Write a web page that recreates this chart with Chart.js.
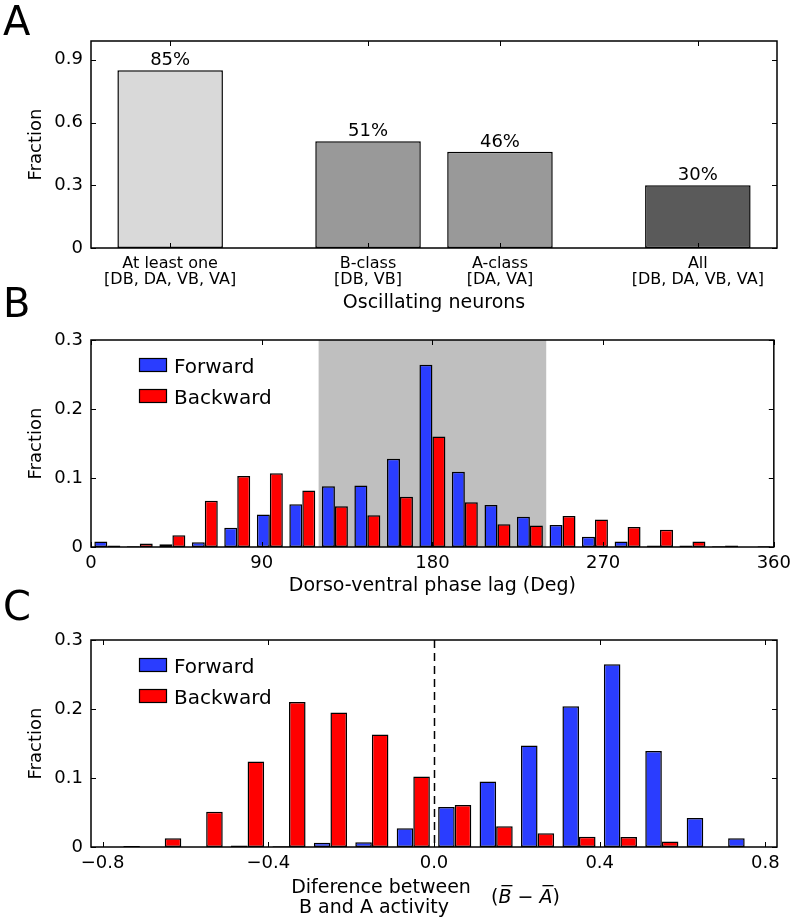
<!DOCTYPE html>
<html>
<head>
<meta charset="utf-8">
<script src="https://cdn.jsdelivr.net/npm/chart.js@4.4.0/dist/chart.umd.min.js"></script>
<style>
  body { margin: 0; background: #fff; }
  #figure { position: relative; width: 797px; height: 921px; overflow: hidden; }
  #figure canvas { position: absolute; left: 0; }
  .panel-letter { position: absolute; left: 3px; font: 40px/40px "DejaVu Sans"; color: #000; }
</style>
</head>
<body>
<div id="figure">
  <canvas id="panelA" width="797" height="320" style="top:0"></canvas>
  <canvas id="panelB" width="797" height="300" style="top:320px"></canvas>
  <canvas id="panelC" width="797" height="301" style="top:620px"></canvas>
  <div class="panel-letter" style="top:1px">A</div>
  <div class="panel-letter" style="top:283px">B</div>
  <div class="panel-letter" style="top:586px">C</div>
</div>
<script>
// Panel A: fraction of recordings with oscillating neurons
const oscPositions = [0, 1.5, 2.5, 4];
const oscLabels = [
    ['At least one', '[DB, DA, VB, VA]'],
    ['B-class', '[DB, VB]'],
    ['A-class', '[DA, VA]'],
    ['All', '[DB, DA, VB, VA]']
];
const oscFractions = [0.85, 0.51, 0.46, 0.30];
const oscPercentLabels = ['85%', '51%', '46%', '30%'];
const oscColors = ['#d9d9d9', '#999999', '#999999', '#5a5a5a'];
const fractionTicksA = [0, 0.3, 0.6, 0.9];
const fractionTickLabelsA = ['0', '0.3', '0.6', '0.9'];

// Panel B: dorso-ventral phase lag histogram (21 bins over 0..360)
const phaseBinCenters = [8.6, 25.7, 42.9, 60.0, 77.1, 94.3, 111.4, 128.6, 145.7, 162.9, 180.0,
    197.1, 214.3, 231.4, 248.6, 265.7, 282.9, 300.0, 317.1, 334.3, 351.4];
const phaseForward = [0.008, 0.001, 0.004, 0.007, 0.028, 0.047, 0.062, 0.088, 0.089, 0.128, 0.264,
    0.109, 0.061, 0.044, 0.032, 0.015, 0.008, 0.002, 0.002, 0.001, 0];
const phaseBackward = [0.002, 0.005, 0.017, 0.067, 0.103, 0.107, 0.082, 0.059, 0.046, 0.073, 0.160,
    0.065, 0.033, 0.031, 0.045, 0.040, 0.029, 0.025, 0.008, 0.002, 0.001];
const phaseTicks = [0, 90, 180, 270, 360];
const phaseShade = [120, 240];

// Panel C: difference between B and A activity histogram
const diffBinCenters = [-0.75, -0.65, -0.55, -0.45, -0.35, -0.25, -0.15, -0.05,
    0.05, 0.15, 0.25, 0.35, 0.45, 0.55, 0.65, 0.75];
const diffForward = [0, 0, 0, 0.002, 0.001, 0.006, 0.007, 0.027,
    0.058, 0.095, 0.147, 0.204, 0.265, 0.139, 0.042, 0.0126];
const diffBackward = [0.0015, 0.0126, 0.051, 0.124, 0.210, 0.195, 0.163, 0.102,
    0.061, 0.030, 0.020, 0.015, 0.0145, 0.008, 0, 0];
const diffTicks = [-0.8, -0.4, 0, 0.4, 0.8];
const diffTickLabels = ['\u22120.8', '\u22120.4', '0.0', '0.4', '0.8'];
const diffTitleLines = ['Diference between', 'B and A activity'];

const fractionTicksBC = [0, 0.1, 0.2, 0.3];
const fractionTickLabelsBC = ['0', '0.1', '0.2', '0.3'];

const forwardColor = '#2a3dff';
const backwardColor = '#ff0000';
const fontFamily = '"DejaVu Sans"';

//inward tick marks on all four sides plus the closed frame
const framePlugin = {
    id: 'frame',
    afterDatasetsDraw(chart) {
        const { ctx, chartArea: a, scales: { x, y } } = chart;
        ctx.save();
        ctx.strokeStyle = '#000';
        ctx.lineWidth = 1;
        ctx.beginPath();
        x.ticks.forEach(t => {
            const px = Math.round(x.getPixelForValue(t.value)) + 0.5;
            ctx.moveTo(px, a.bottom); ctx.lineTo(px, a.bottom - 5);
            ctx.moveTo(px, a.top); ctx.lineTo(px, a.top + 5);
        });
        y.ticks.forEach(t => {
            const py = Math.round(y.getPixelForValue(t.value)) + 0.5;
            ctx.moveTo(a.left, py); ctx.lineTo(a.left + 5, py);
            ctx.moveTo(a.right, py); ctx.lineTo(a.right - 5, py);
        });
        ctx.stroke();
        ctx.lineWidth = 1.5;
        ctx.strokeRect(a.left, a.top, a.right - a.left, a.bottom - a.top);
        ctx.restore();
    }
};

const percentPlugin = {
    id: 'percentLabels',
    afterDatasetsDraw(chart) {
        const { ctx } = chart;
        ctx.save();
        ctx.fillStyle = '#000';
        ctx.font = '18px ' + fontFamily;
        ctx.textAlign = 'center';
        chart.getDatasetMeta(0).data.forEach((bar, i) => {
            ctx.fillText(oscPercentLabels[i], bar.x, bar.y - 5);
        });
        ctx.restore();
    }
};

//gray band behind the histogram bars
const shadePlugin = {
    id: 'shade',
    beforeDatasetsDraw(chart) {
        const { ctx, chartArea: a, scales: { x } } = chart;
        const x0 = x.getPixelForValue(phaseShade[0]);
        const x1 = x.getPixelForValue(phaseShade[1]);
        ctx.save();
        ctx.fillStyle = '#bfbfbf';
        ctx.fillRect(x0, a.top, x1 - x0, a.bottom - a.top);
        ctx.restore();
    }
};

const insideLegend = {
    id: 'insideLegend',
    afterDatasetsDraw(chart) {
        const { ctx, chartArea: a } = chart;
        ctx.save();
        ctx.font = '20px ' + fontFamily;
        ctx.textBaseline = 'alphabetic';
        chart.data.datasets.forEach((ds, i) => {
            const top = a.top + 18 + i * 31;
            ctx.fillStyle = ds.backgroundColor;
            ctx.fillRect(a.left + 48, top, 28, 14);
            ctx.strokeStyle = '#000';
            ctx.lineWidth = 1.2;
            ctx.strokeRect(a.left + 48.5, top + 0.5, 27, 13);
            ctx.fillStyle = '#000';
            ctx.fillText(ds.label, a.left + 83, top + 14.5);
        });
        ctx.restore();
    }
};

const zeroLine = {
    id: 'zeroLine',
    afterDatasetsDraw(chart) {
        const { ctx, chartArea: a, scales: { x } } = chart;
        const px = Math.round(x.getPixelForValue(0)) + 0.5;
        ctx.save();
        ctx.strokeStyle = '#000';
        ctx.lineWidth = 1.5;
        ctx.setLineDash([8, 5]);
        ctx.beginPath();
        ctx.moveTo(px, a.top);
        ctx.lineTo(px, a.bottom);
        ctx.stroke();
        ctx.restore();
    }
};

//two-line x label with the (B - A) formula next to it
const diffTitle = {
    id: 'diffTitle',
    afterDraw(chart) {
        const { ctx, chartArea: a } = chart;
        ctx.save();
        ctx.fillStyle = '#000';
        ctx.font = '19px ' + fontFamily;
        ctx.textAlign = 'center';
        ctx.fillText(diffTitleLines[0], a.left + 290, a.bottom + 46);
        ctx.fillText(diffTitleLines[1], a.left + 283, a.bottom + 66);

        ctx.textAlign = 'left';
        const base = a.bottom + 56;
        let cx = a.left + 400;
        const parts = [['(', false], ['B', true], [' \u2212 ', false], ['A', true], [')', false]];
        parts.forEach(([txt, italic]) => {
            ctx.font = (italic ? 'italic ' : '') + '19px ' + fontFamily;
            const w = ctx.measureText(txt).width;
            ctx.fillText(txt, cx, base);
            if (italic) {
                ctx.fillRect(cx + 3, base - 18, w - 2, 1.3);
            }
            cx += w;
        });
        ctx.restore();
    }
};

function yAxis(max, ticks, labels) {
    return {
        min: 0,
        max: max,
        grid: { display: false, drawTicks: false },
        border: { display: false },
        afterBuildTicks: s => { s.ticks = ticks.map(v => ({ value: v })); },
        afterFit: s => { s.width = 91; },
        ticks: {
            color: '#000',
            padding: 8,
            font: { family: 'DejaVu Sans', size: 18 },
            callback: (v, i) => labels[i]
        },
        title: {
            display: true,
            text: 'Fraction',
            color: '#000',
            font: { family: 'DejaVu Sans', size: 18 },
            padding: { top: 26, bottom: 0 }
        }
    };
}

function xAxis(min, max, ticks, labelFn, height, tickFont, tickPad, title, titlePad) {
    return {
        type: 'linear',
        min: min,
        max: max,
        offset: false,
        grid: { display: false, drawTicks: false },
        border: { display: false },
        afterBuildTicks: s => { s.ticks = ticks.map(v => ({ value: v })); },
        afterFit: s => { s.height = height; },
        ticks: {
            color: '#000',
            autoSkip: false,
            maxRotation: 0,
            padding: tickPad,
            font: tickFont,
            callback: labelFn
        },
        title: {
            display: !!title,
            text: title || '',
            color: '#000',
            font: { family: 'DejaVu Sans', size: 19 },
            padding: { top: 0, bottom: titlePad }
        }
    };
}

function histDatasets(centers, forward, backward) {
    return [
        {
            label: 'Forward',
            data: centers.map((c, i) => ({ x: c, y: forward[i] })),
            backgroundColor: forwardColor
        },
        {
            label: 'Backward',
            data: centers.map((c, i) => ({ x: c, y: backward[i] })),
            backgroundColor: backwardColor
        }
    ].map(ds => Object.assign(ds, {
        borderColor: '#000',
        borderWidth: 1.5,
        borderSkipped: false,
        categoryPercentage: 0.8,
        barPercentage: 1.0
    }));
}

const baseOptions = {
    responsive: false,
    maintainAspectRatio: false,
    animation: false,
    plugins: { legend: { display: false }, tooltip: { enabled: false } }
};

new Chart(document.getElementById('panelA'), {
    type: 'bar',
    data: {
        datasets: [{
            data: oscPositions.map((p, i) => ({ x: p, y: oscFractions[i] })),
            backgroundColor: oscColors,
            borderColor: '#000',
            borderWidth: 1.5,
            borderSkipped: false,
            categoryPercentage: 1,
            barPercentage: 0.8
        }]
    },
    options: Object.assign({}, baseOptions, {
        layout: { padding: { top: 41, right: 20, left: 0, bottom: 0 } },
        scales: {
            x: xAxis(-0.6, 4.6, oscPositions, (v, i) => oscLabels[i], 72,
                { family: 'DejaVu Sans', size: 16, lineHeight: 1.0 }, 8, 'Oscillating neurons', 6),
            y: yAxis(0.99, fractionTicksA, fractionTickLabelsA)
        }
    }),
    plugins: [framePlugin, percentPlugin]
});

new Chart(document.getElementById('panelB'), {
    type: 'bar',
    data: { datasets: histDatasets(phaseBinCenters, phaseForward, phaseBackward) },
    options: Object.assign({}, baseOptions, {
        layout: { padding: { top: 20, right: 20, left: 0, bottom: 0 } },
        scales: {
            x: xAxis(0, 360, phaseTicks, v => String(v), 73,
                { family: 'DejaVu Sans', size: 18 }, 6, 'Dorso-ventral phase lag (Deg)', 23),
            y: yAxis(0.3, fractionTicksBC, fractionTickLabelsBC)
        }
    }),
    plugins: [shadePlugin, framePlugin, insideLegend]
});

new Chart(document.getElementById('panelC'), {
    type: 'bar',
    data: { datasets: histDatasets(diffBinCenters, diffForward, diffBackward) },
    options: Object.assign({}, baseOptions, {
        layout: { padding: { top: 20, right: 20, left: 0, bottom: 0 } },
        scales: {
            x: xAxis(-0.828, 0.828, diffTicks, (v, i) => diffTickLabels[i], 74,
                { family: 'DejaVu Sans', size: 18 }, 6, null, 0),
            y: yAxis(0.3, fractionTicksBC, fractionTickLabelsBC)
        }
    }),
    plugins: [framePlugin, zeroLine, insideLegend, diffTitle]
});
</script>
</body>
</html>
